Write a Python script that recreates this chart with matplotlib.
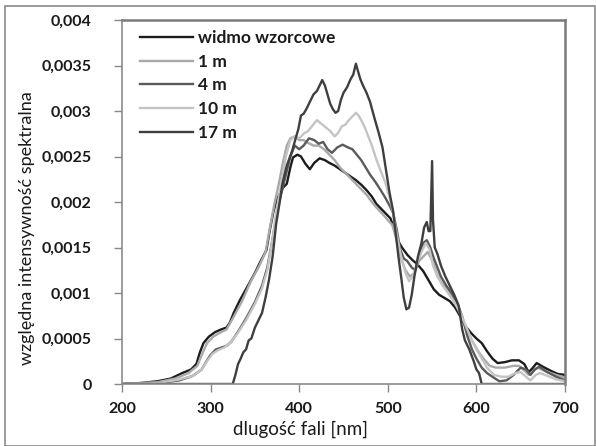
import matplotlib
matplotlib.use("Agg")
import matplotlib.pyplot as plt
from matplotlib.patches import Rectangle

# ---------------- data ----------------
series_names = ["widmo wzorcowe", "1 m", "4 m", "10 m", "17 m"]

x_ref = [200, 220, 240, 255, 268, 278, 284, 288, 292, 298, 305, 312, 318, 322, 326, 333, 341, 350, 357, 363,
         367, 371, 376, 381, 386, 390, 393, 398, 402, 407, 412, 417, 423, 429, 434, 440, 446, 452, 458, 464,
         470, 476, 482, 487, 493, 498, 503, 508, 511, 516, 522, 528, 533, 540, 546, 552, 558, 565, 570, 576,
         582, 588, 594, 600, 606, 612, 618, 624, 632, 640, 648, 654, 659, 663, 668, 675, 685, 692, 700]
y_ref = [0, 0.00001, 0.00003, 0.00006, 0.00012, 0.00016, 0.00022, 0.00035, 0.00045, 0.00052, 0.00057, 0.0006,
         0.00062, 0.00068, 0.00078, 0.00092, 0.00106, 0.00122, 0.00136, 0.00147, 0.0017, 0.0019, 0.00205, 0.00215,
         0.0022, 0.00238, 0.00249, 0.00252, 0.0025, 0.00242, 0.00236, 0.00243, 0.00248, 0.00246, 0.00243, 0.0024,
         0.00236, 0.00232, 0.00228, 0.00224, 0.00219, 0.00213, 0.00206, 0.00198, 0.00192, 0.00187, 0.00182,
         0.00168, 0.00158, 0.0015, 0.00142, 0.00136, 0.00132, 0.00124, 0.00114, 0.00104, 0.00098, 0.00094,
         0.00091, 0.00084, 0.00074, 0.00063, 0.00056, 0.0005, 0.00045, 0.00036, 0.00028, 0.00023, 0.00024,
         0.00026, 0.00026, 0.00022, 0.00013, 0.00017, 0.00023, 0.00019, 0.00014, 0.00011, 0.0001]

x_1m = [200, 240, 260, 275, 285, 290, 296, 303, 310, 318, 325, 335, 345, 355, 362, 367, 372, 377, 382, 386,
        390, 395, 400, 405, 410, 416, 422, 428, 434, 440, 446, 452, 458, 464, 470, 476, 482, 488, 494, 500,
        505, 510, 515, 520, 525, 530, 535, 540, 545, 550, 555, 560, 566, 572, 578, 584, 590, 596, 602, 608,
        615, 622, 632, 642, 648, 655, 659, 664, 669, 678, 690, 700]
y_1m = [0, 0.00002, 0.00006, 0.00012, 0.0002, 0.00032, 0.00045, 0.00052, 0.00056, 0.0006, 0.00072, 0.0009,
        0.00112, 0.0013, 0.00145, 0.00172, 0.00198, 0.0022, 0.00245, 0.00262, 0.0027, 0.00272, 0.00268,
        0.00268, 0.00265, 0.00262, 0.00262, 0.00258, 0.00252, 0.00246, 0.00238, 0.00232, 0.00226, 0.0022,
        0.00214, 0.00208, 0.002, 0.00193, 0.00187, 0.0018, 0.00175, 0.00158, 0.00138, 0.00125, 0.00118,
        0.00122, 0.00135, 0.0014, 0.00145, 0.00136, 0.00122, 0.00112, 0.00105, 0.00096, 0.00085, 0.00072,
        0.00058, 0.00046, 0.00036, 0.00028, 0.0002, 0.00018, 0.00018, 0.0002, 0.0002, 0.00014, 0.0001,
        0.00014, 0.00018, 0.00014, 0.0001, 0.00007]

x_4m = [200, 240, 265, 280, 290, 296, 300, 306, 312, 318, 323, 330, 340, 350, 358, 364, 370, 375, 380, 385,
        390, 395, 400, 405, 411, 417, 422, 427, 432, 437, 443, 449, 455, 460, 465, 470, 475, 480, 486, 492,
        497, 502, 506, 510, 514, 518, 522, 527, 531, 535, 540, 544, 548, 552, 556, 560, 566, 572, 578, 584,
        590, 595, 600, 606, 612, 618, 626, 634, 642, 650, 656, 661, 666, 671, 680, 690, 700]
y_4m = [0, 0.00001, 0.00004, 0.00009, 0.00016, 0.00026, 0.00032, 0.00038, 0.0004, 0.00042, 0.00046, 0.00056,
        0.00072, 0.0009, 0.00108, 0.00128, 0.0016, 0.0019, 0.0021, 0.0023, 0.0025, 0.00262, 0.00258, 0.00262,
        0.0027, 0.00268, 0.00264, 0.00266, 0.00258, 0.00254, 0.0026, 0.00263, 0.0026, 0.00258, 0.00252,
        0.00246, 0.00238, 0.0023, 0.00222, 0.00213, 0.00205, 0.00196, 0.00188, 0.0017, 0.00148, 0.00138,
        0.00135, 0.00128, 0.00125, 0.00138, 0.00155, 0.00158, 0.0015, 0.00138, 0.00128, 0.00118, 0.00108,
        0.001, 0.0009, 0.00074, 0.00052, 0.00038, 0.00028, 0.00018, 0.00012, 0.00008, 0.00003, 0.00004,
        0.0001, 0.00018, 0.00016, 0.0001, 0.00016, 0.00019, 0.00013, 0.00008, 0.00004]

x_10m = [200, 240, 265, 280, 290, 296, 302, 308, 315, 322, 330, 340, 350, 358, 364, 370, 375, 380, 385, 390,
         395, 400, 405, 410, 415, 420, 425, 430, 435, 440, 444, 448, 452, 456, 460, 464, 467, 470, 474, 478,
         482, 487, 492, 497, 502, 506, 510, 515, 520, 524, 528, 533, 538, 543, 547, 551, 556, 562, 568, 575,
         582, 588, 594, 600, 606, 612, 620, 628, 636, 644, 650, 656, 661, 667, 672, 680, 690, 700]
y_10m = [0, 0.00001, 0.00005, 0.00009, 0.00016, 0.00025, 0.00033, 0.00037, 0.0004, 0.00045, 0.00055, 0.0007,
         0.00088, 0.00105, 0.00125, 0.0016, 0.00195, 0.0022, 0.0025, 0.00268, 0.00272, 0.0027, 0.00275,
         0.00278, 0.00284, 0.0029, 0.00286, 0.00282, 0.00278, 0.00272, 0.00276, 0.00283, 0.00285, 0.0029,
         0.00294, 0.00298, 0.00295, 0.0029, 0.00282, 0.00272, 0.00262, 0.00247, 0.00234, 0.00222, 0.00205,
         0.00188, 0.00165, 0.0014, 0.00122, 0.00113, 0.00118, 0.00132, 0.00145, 0.00155, 0.00148, 0.0013,
         0.00118, 0.00108, 0.001, 0.0009, 0.00078, 0.00064, 0.0005, 0.00038, 0.00028, 0.00018, 0.0001,
         0.00008, 0.00008, 0.00012, 0.00013, 0.00008, 0.00004, 0.0001, 0.00012, 0.00009, 0.00005, 0.00003]

x_17m = [200, 325, 328, 331, 334, 337, 340, 343, 346, 350, 354, 358, 362, 366, 370, 374, 378, 381, 386, 392,
         396, 399, 402, 405, 408, 412, 416, 420, 424, 426, 429, 432, 435, 438, 441, 444, 447, 450, 454, 458,
         461, 464, 466, 469, 472, 476, 480, 485, 490, 494, 498, 502, 506, 509, 512, 515, 518, 521, 524, 527,
         530, 534, 538, 541, 544, 546, 548, 550, 551, 553, 556, 560, 565, 570, 575, 580, 584, 587, 592, 597,
         600, 603, 606, 700]
y_17m = [0, 0, 0.0001, 0.00022, 0.00028, 0.00035, 0.00038, 0.00048, 0.0005, 0.00062, 0.0007, 0.00078, 0.00095,
         0.00115, 0.0014, 0.00176, 0.002, 0.0022, 0.0024, 0.00256, 0.0027, 0.0028, 0.00295, 0.00297, 0.00302,
         0.0031, 0.00318, 0.00322, 0.0033, 0.00334, 0.00328, 0.00318, 0.00308, 0.00302, 0.00298, 0.003,
         0.00312, 0.0032, 0.00326, 0.00335, 0.0034, 0.00352, 0.00345, 0.00335, 0.00328, 0.0032, 0.0031,
         0.00292, 0.00275, 0.0026, 0.00235, 0.0021, 0.0019, 0.00165, 0.0014, 0.00118, 0.00095, 0.00082,
         0.00084, 0.00098, 0.00118, 0.0014, 0.00155, 0.00172, 0.00178, 0.00168, 0.00168, 0.00245, 0.0018,
         0.0015, 0.00143, 0.0013, 0.00118, 0.00108, 0.00098, 0.00086, 0.0006, 0.00048, 0.00038, 0.00025,
         0.00016, 0.00012, 0, 0]

x_ticks = [200, 300, 400, 500, 600, 700]
y_ticks = [0, 0.0005, 0.001, 0.0015, 0.002, 0.0025, 0.003, 0.0035, 0.004]
y_tick_labels = ["0", "0,0005", "0,001", "0,0015", "0,002", "0,0025", "0,003", "0,0035", "0,004"]

x_label = "dlugość fali [nm]"
y_label = "względna intensywność spektralna"

# ---------------- styling ----------------
colors = ["#1c1c1c", "#a9a9a9", "#5a5a5a", "#c4c4c4", "#3f3f3f"]
plt.rcParams["font.family"] = ["Lato", "DejaVu Sans"]

fig = plt.figure(figsize=(5.96, 4.46), dpi=100)
ax = fig.add_axes([122 / 596, 1 - 384 / 446, (565 - 122) / 596, (384 - 20) / 446])

xs = [x_ref, x_1m, x_4m, x_10m, x_17m]
ys = [y_ref, y_1m, y_4m, y_10m, y_17m]
for xv, yv, c, name in zip(xs, ys, colors, series_names):
    ax.plot(xv, yv, color=c, lw=1.7, label=name, solid_joinstyle="round")

ax.set_xlim(200, 700)
ax.set_ylim(0, 0.004)
ax.set_xticks(x_ticks)
ax.set_xticklabels([str(t) for t in x_ticks])
ax.set_yticks(y_ticks)
ax.set_yticklabels(y_tick_labels)

for lab in ax.get_xticklabels() + ax.get_yticklabels():
    lab.set_fontweight("bold")
    lab.set_fontsize(11.5)
    lab.set_color("#1a1a1a")

ax.tick_params(axis="both", direction="out", length=6, width=1, color="#888888")
ax.tick_params(axis="y", pad=16)
ax.tick_params(axis="x", pad=7)

for side in ["left", "bottom"]:
    ax.spines[side].set_color("#8c8c8c")
    ax.spines[side].set_linewidth(1.2)
for side in ["top", "right"]:
    ax.spines[side].set_color("#7a7a7a")
    ax.spines[side].set_linewidth(1.8)

ax.set_xlabel(x_label, fontsize=13.5, color="#1a1a1a")
ax.set_ylabel(y_label, fontsize=13, color="#1a1a1a")
ax.xaxis.set_label_coords(300 / 596, 1 - 421 / 446, transform=fig.transFigure)
ax.yaxis.set_label_coords(35 / 596, 1 - 228 / 446, transform=fig.transFigure)

leg = ax.legend(loc="upper left", bbox_to_anchor=(0.006, 1.016), frameon=False,
                handlelength=3.05, handletextpad=0.3, labelspacing=0.45,
                prop={"weight": "bold", "size": 12.5})
for t in leg.get_texts():
    t.set_color("#1a1a1a")

# outer figure frame
fig.patches.append(Rectangle((5 / 596, 0), 590 / 596, 440 / 446, transform=fig.transFigure,
                             fill=False, edgecolor="#8a8a8a", lw=1.2))

fig.savefig("out.png", dpi=100)
